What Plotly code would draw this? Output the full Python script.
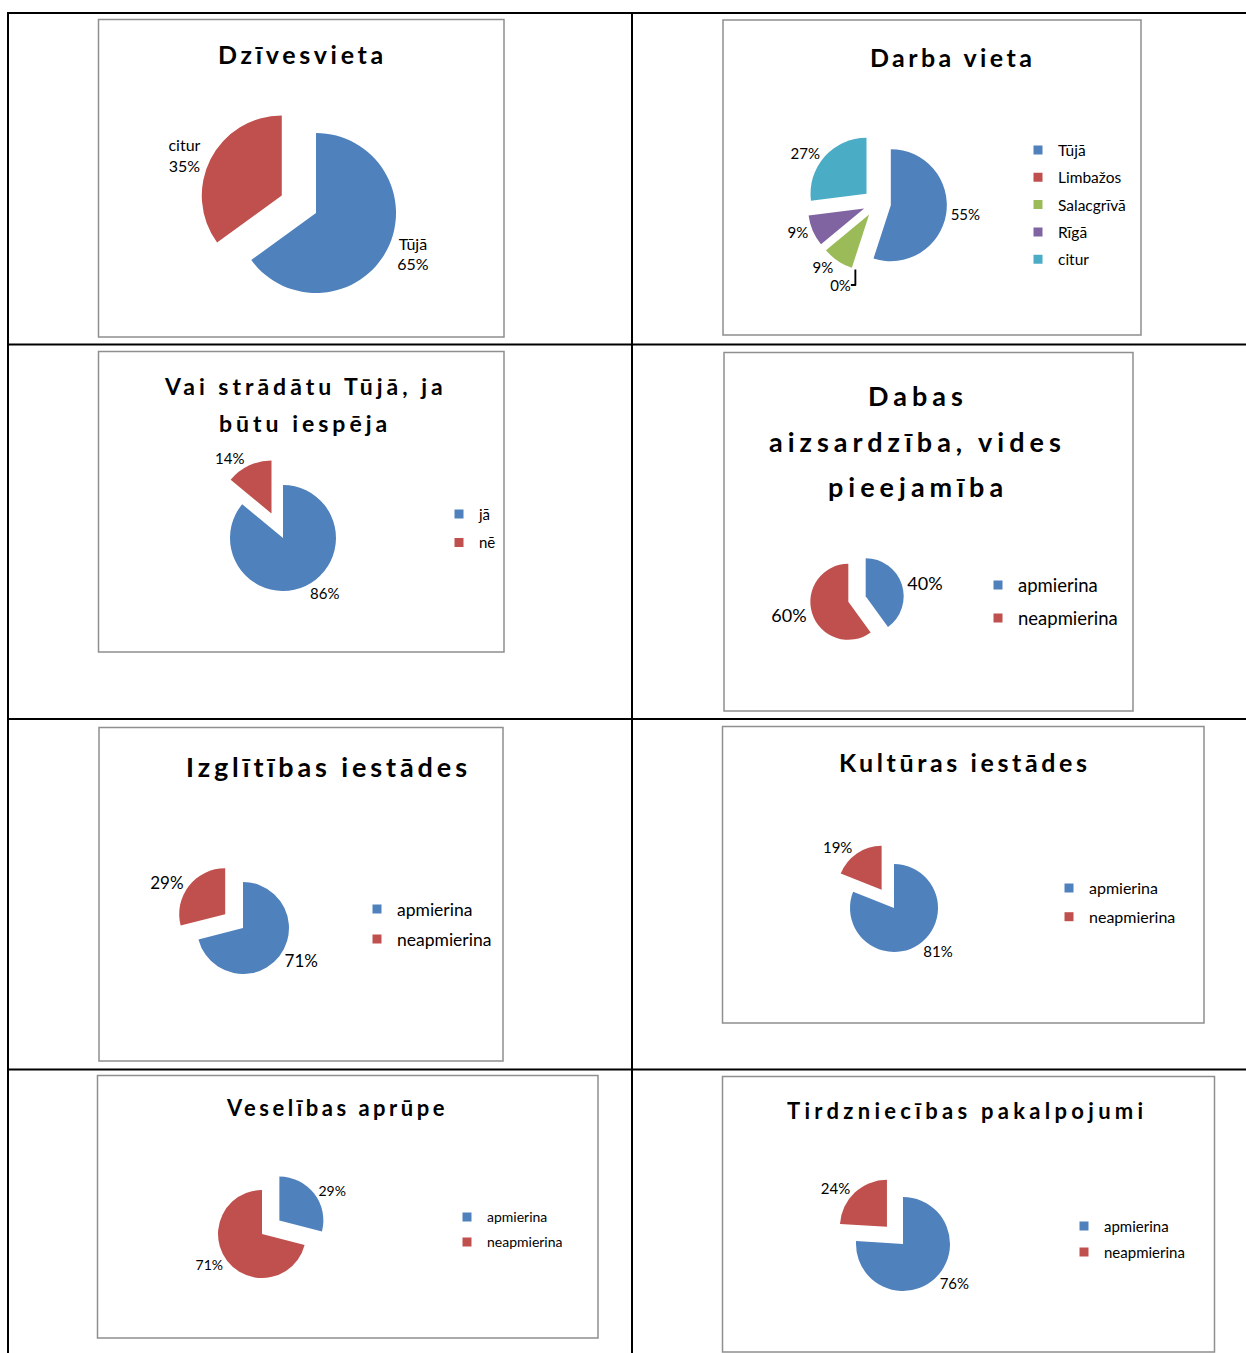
import plotly.graph_objects as go

W, H = 1246, 1353

BLUE = "#4F81BD"; RED = "#C0504D"; GREEN = "#9BBB59"; PURPLE = "#8064A2"; TEAL = "#4BACC6"

# ---------------- data ----------------
dz_labels = ["Tūjā", "citur"]
dz_values = [65, 35]

dv_labels = ["Tūjā", "Limbažos", "Salacgrīvā", "Rīgā", "citur"]
dv_values = [55, 0, 9, 9, 27]

vs_labels = ["jā", "nē"]
vs_values = [86, 14]

sat_labels = ["apmierina", "neapmierina"]
dab_values = [40, 60]
izg_values = [71, 29]
kul_values = [81, 19]
ves_values = [29, 71]
tir_values = [76, 24]

titles = [
    ["Dzīvesvieta"],
    ["Darba vieta"],
    ["Vai strādātu Tūjā, ja", "būtu iespēja"],
    ["Dabas", "aizsardzība, vides", "pieejamība"],
    ["Izglītības iestādes"],
    ["Kultūras iestādes"],
    ["Veselības aprūpe"],
    ["Tirdzniecības pakalpojumi"],
]

# ---------------- layout / style (pixel positions) ----------------
charts = [
    dict(labels=dz_labels, values=dz_values, colors=[BLUE, RED], cx=316, cy=213, r=80, pull=[0, 0.48],
         fs=16, tmpl="%{label}<br>%{percent:.0%}", tx=301, ty=[54], tfs=25, ls=3.7, legend=None),
    dict(labels=dv_labels, values=dv_values, colors=[BLUE, RED, GREEN, PURPLE, TEAL], cx=877, cy=203, r=56,
         pull=[0.25] * 5, fs=15, tmpl="%{percent:.0%}", tx=951, ty=[57], tfs=25, ls=3.4,
         legend=dict(tx=1058, y0=150, step=27.3, fs=15.5)),
    dict(labels=vs_labels, values=vs_values, colors=[BLUE, RED], cx=283, cy=538, r=53, pull=[0, 0.51],
         fs=15, tmpl="%{percent:.0%}", tx=303, ty=[386, 423], tfs=23, ls=4,
         legend=dict(tx=479, y0=514, step=28.4, fs=15)),
    dict(labels=sat_labels, values=dab_values, colors=[BLUE, RED], cx=857, cy=599, r=38, pull=[0.24, 0.24],
         fs=18, tmpl="%{percent:.0%}", tx=915, ty=[395, 441, 487], tfs=27, ls=5.0,
         legend=dict(tx=1018, y0=585, step=33, fs=18.5)),
    dict(labels=sat_labels, values=izg_values, colors=[BLUE, RED], cx=243, cy=928, r=46, pull=[0, 0.49],
         fs=17, tmpl="%{percent:.0%}", tx=327, ty=[766], tfs=27, ls=3.9,
         legend=dict(tx=397, y0=909, step=30, fs=17.5)),
    dict(labels=sat_labels, values=kul_values, colors=[BLUE, RED], cx=894, cy=908, r=44, pull=[0, 0.5],
         fs=15, tmpl="%{percent:.0%}", tx=963, ty=[762], tfs=25, ls=3.6,
         legend=dict(tx=1089, y0=888, step=28.7, fs=16)),
    dict(labels=sat_labels, values=ves_values, colors=[BLUE, RED], cx=262, cy=1234, r=44, pull=[0.5, 0],
         fs=14, tmpl="%{percent:.0%}", tx=335, ty=[1107], tfs=22, ls=3.5,
         legend=dict(tx=487, y0=1217, step=25, fs=14)),
    dict(labels=sat_labels, values=tir_values, colors=[BLUE, RED], cx=903, cy=1244, r=47, pull=[0, 0.5],
         fs=15, tmpl="%{percent:.0%}", tx=965, ty=[1110], tfs=22, ls=4.3,
         legend=dict(tx=1104, y0=1226, step=26, fs=15)),
]

chart_boxes = [
    (98.5, 19.5, 504, 337),
    (723, 20, 1141, 335),
    (98.5, 351.5, 504, 652),
    (724, 352.5, 1133, 711),
    (99, 727.5, 503, 1061),
    (722.5, 726.5, 1204, 1023),
    (97.5, 1075.5, 598, 1338),
    (722.5, 1076.5, 1214.5, 1352),
]

table_h = [13, 344.5, 719, 1069.5]
table_v = [8, 632]


def px(x):
    return x / W


def py(y):
    return 1 - y / H


def dom(cx, cy, s):
    return dict(x=[px(cx - s), px(cx + s)], y=[py(cy + s), py(cy - s)])


FONT = "Lato"
fig = go.Figure()
shapes = []
annotations = []
layout_legends = {}

for (x0, y0, x1, y1) in chart_boxes:
    shapes.append(dict(type="rect", xref="paper", yref="paper", x0=px(x0), x1=px(x1), y0=py(y1), y1=py(y0),
                       line=dict(color="#8f8f8f", width=1.5), fillcolor="rgba(0,0,0,0)", layer="below"))
for y in table_h:
    shapes.append(dict(type="line", xref="paper", yref="paper", x0=px(7), x1=1, y0=py(y), y1=py(y),
                       line=dict(color="black", width=2)))
for x in table_v:
    shapes.append(dict(type="line", xref="paper", yref="paper", x0=px(x), x1=px(x), y0=py(12), y1=0,
                       line=dict(color="black", width=2)))

leg_idx = 0
for ci, c in enumerate(charts):
    s = c["r"] * (1 + max(c["pull"]))
    fig.add_trace(go.Pie(
        labels=c["labels"], values=c["values"], marker=dict(colors=c["colors"]),
        pull=c["pull"], sort=False, direction="clockwise", rotation=0,
        textposition="outside", texttemplate=c["tmpl"],
        textfont=dict(family=FONT, size=c["fs"], color="black"),
        domain=dom(c["cx"], c["cy"], s),
        showlegend=False, hoverinfo="label+percent",
    ))

    for line, y in zip(titles[ci], c["ty"]):
        annotations.append(dict(
            xref="paper", yref="paper", x=px(c["tx"] + c["ls"] / 2), y=py(y), xanchor="center", yanchor="middle",
            text=f'<span style="letter-spacing:{c["ls"]}px">{line}</span>', showarrow=False,
            font=dict(family=FONT, size=c["tfs"], color="black", weight="bold"),
        ))
    L = c["legend"]
    if L is not None:
        leg_idx += 1
        key = "legend" if leg_idx == 1 else f"legend{leg_idx}"
        h = max(L["fs"] * 1.3, 16) + 3
        gap = max(L["step"] - h, 0)
        top = L["y0"] - 5 - h / 2
        layout_legends[key] = dict(
            x=px(L["tx"] - 40), y=py(top), xanchor="left", yanchor="top",
            bgcolor="rgba(0,0,0,0)", borderwidth=0, tracegroupgap=gap, traceorder="grouped",
            font=dict(family=FONT, size=L["fs"], color="black"),
        )
        for li, (lab, col) in enumerate(zip(c["labels"], c["colors"])):
            fig.add_trace(go.Scatter(
                x=[None], y=[None], mode="markers", name=lab,
                marker=dict(symbol="square", size=9, color=col),
                legend=key, legendgroup=f"{key}_{li}", showlegend=True, hoverinfo="skip",
            ))

fig.update_layout(
    width=W, height=H, margin=dict(l=0, r=0, t=0, b=0),
    paper_bgcolor="white", plot_bgcolor="white",
    xaxis=dict(visible=False, range=[0, 1]), yaxis=dict(visible=False, range=[0, 1]),
    shapes=shapes, annotations=annotations,
    modebar=dict(bgcolor="rgba(0,0,0,0)", color="rgba(0,0,0,0)", activecolor="rgba(0,0,0,0)"),
    **layout_legends,
)

fig.write_html("out.html", config={"displayModeBar": False},
               post_script="document.body.style.margin='0';")
